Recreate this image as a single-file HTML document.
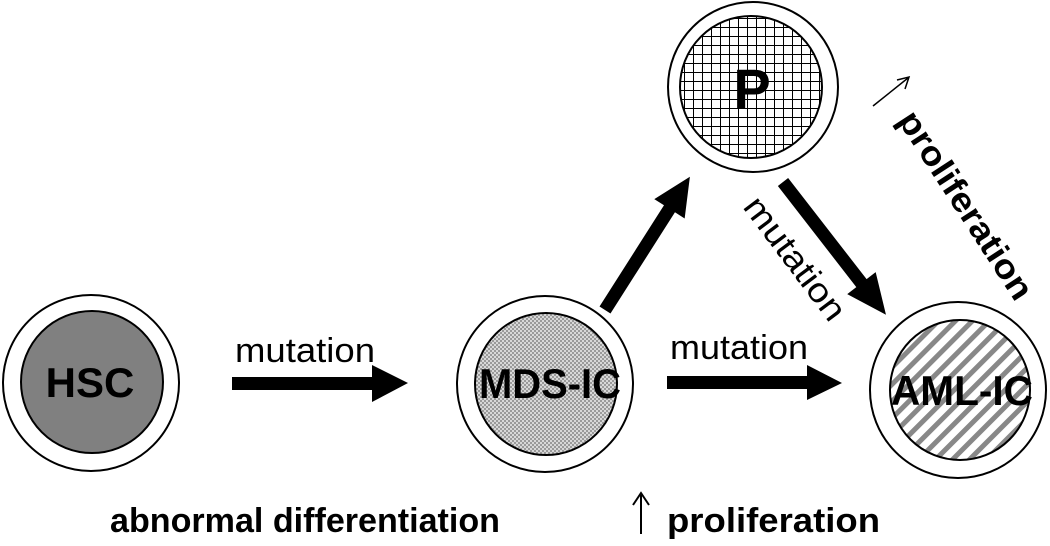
<!DOCTYPE html>
<html><head><meta charset="utf-8"><style>
html,body{margin:0;padding:0;background:#fff;}
svg{display:block;font-family:"Liberation Sans",Arial,sans-serif;}
</style></head><body>
<svg width="1050" height="546" viewBox="0 0 1050 546" xmlns="http://www.w3.org/2000/svg">
<defs>
<pattern id="dots" width="4" height="4" patternUnits="userSpaceOnUse">
<rect width="4" height="4" fill="#d8d8d8"/>
<rect width="2" height="2" fill="#9a9a9a"/><rect x="2" y="2" width="2" height="2" fill="#9a9a9a"/>
</pattern>
<pattern id="grid" width="9" height="9" patternUnits="userSpaceOnUse">
<rect width="9" height="9" fill="#fff"/>
<path d="M0 0.5H9M0.5 0V9" stroke="#000" stroke-width="1"/>
</pattern>
<pattern id="stripes" width="12" height="12" patternUnits="userSpaceOnUse" patternTransform="rotate(45)">
<rect width="12" height="12" fill="#fff"/>
<rect width="5" height="12" fill="#888"/>
</pattern>
</defs>

<!-- HSC -->
<circle cx="91" cy="383" r="88" fill="#fff" stroke="#000" stroke-width="2"/>
<circle cx="92" cy="382" r="71" fill="#808080" stroke="#000" stroke-width="2"/>
<text x="90" y="397" font-size="42" font-weight="bold" text-anchor="middle">HSC</text>

<!-- MDS-IC -->
<circle cx="545" cy="384" r="88" fill="#fff" stroke="#000" stroke-width="2"/>
<circle cx="546" cy="384" r="71" fill="url(#dots)" stroke="#000" stroke-width="2"/>
<text x="550" y="398" font-size="42" font-weight="bold" text-anchor="middle" textLength="142" lengthAdjust="spacingAndGlyphs">MDS-IC</text>

<!-- P -->
<circle cx="753" cy="87" r="85" fill="#fff" stroke="#000" stroke-width="2"/>
<circle cx="751" cy="87" r="71" fill="url(#grid)" stroke="#000" stroke-width="2"/>
<text x="752" y="108" font-size="56" font-weight="bold" text-anchor="middle">P</text>

<!-- AML-IC -->
<circle cx="958" cy="390" r="88" fill="#fff" stroke="#000" stroke-width="2"/>
<circle cx="960" cy="390" r="70" fill="url(#stripes)" stroke="#000" stroke-width="2"/>
<text x="962" y="405" font-size="42" font-weight="bold" text-anchor="middle" textLength="142" lengthAdjust="spacingAndGlyphs">AML-IC</text>

<!-- arrows -->
<polygon points="232,377 372,377 372,365 408,383 372,402 372,390 232,390" fill="#000"/>
<polygon points="667,376 807,376 807,365 842,383 807,400 807,389 667,389" fill="#000"/>
<g transform="translate(605,310) rotate(-57.5)">
<polygon points="0,-6.5 120,-6.5 120,-18 158,0 120,18 120,6.5 0,6.5" fill="#000"/>
</g>
<g transform="translate(783,182) rotate(52.2)">
<polygon points="0,-6.5 128,-6.5 128,-18 168,0 128,18 128,6.5 0,6.5" fill="#000"/>
</g>

<!-- labels -->
<text x="235" y="362" font-size="34" textLength="140" lengthAdjust="spacingAndGlyphs">mutation</text>
<text x="670" y="359" font-size="34" textLength="138" lengthAdjust="spacingAndGlyphs">mutation</text>
<text transform="translate(742,207) rotate(53)" font-size="34" textLength="146" lengthAdjust="spacingAndGlyphs">mutation</text>
<line x1="873" y1="106" x2="908" y2="78" stroke="#000" stroke-width="1.5"/>
<polyline points="897,80 909,77 905,89" fill="none" stroke="#000" stroke-width="1.5"/>
<text transform="translate(897,120) rotate(57)" font-size="34" font-weight="bold" textLength="218" lengthAdjust="spacingAndGlyphs">proliferation</text>

<text x="110" y="532" font-size="34" font-weight="bold" textLength="390" lengthAdjust="spacingAndGlyphs">abnormal differentiation</text>
<line x1="641" y1="534" x2="641" y2="495" stroke="#000" stroke-width="2"/>
<polyline points="633,505 641,493 649,505" fill="none" stroke="#000" stroke-width="2"/>
<text x="667" y="532" font-size="34" font-weight="bold" textLength="213" lengthAdjust="spacingAndGlyphs">proliferation</text>
</svg>
</body></html>
